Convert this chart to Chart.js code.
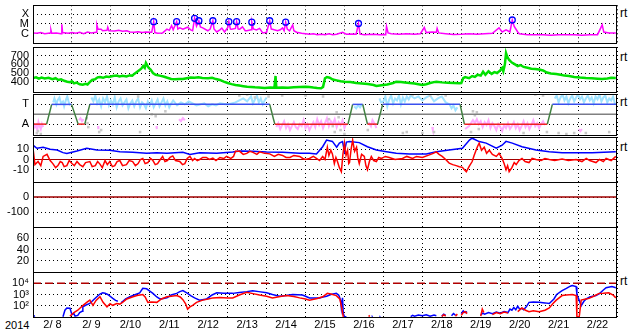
<!DOCTYPE html>
<html>
<head>
<meta charset="utf-8">
<script src="https://cdn.jsdelivr.net/npm/chart.js@4.4.1/dist/chart.umd.min.js"></script>
<style>
  body { margin: 0; background: #fff; }
  #wrap { position: relative; width: 633px; height: 334px; overflow: hidden; background: #fff;
          font-family: "Liberation Sans", Arial, sans-serif; }
  #wrap canvas { position: absolute; left: 0; display: block; }
  .lbl { position: absolute; font-size: 12px; line-height: 14px; color: #000; white-space: nowrap; }
</style>
</head>
<body>
<div id="wrap">
  <span class="lbl" style="left:5px;top:318px;font-size:11px">2014</span>
  <span class="lbl" style="left:620px;top:6px">rt</span>
  <span class="lbl" style="left:620px;top:50px">rt</span>
  <span class="lbl" style="left:620px;top:95px">rt</span>
  <span class="lbl" style="left:620px;top:140px">rt</span>
  <span class="lbl" style="left:620px;top:274px">rt</span>
</div>
<script>
// x values are days since 2/8 00:00
const DAY_LABELS = ['2/ 8','2/ 9','2/10','2/11','2/12','2/13','2/14','2/15','2/16','2/17','2/18','2/19','2/20','2/21','2/22'];

const XRAY_TICKS = [1e-6, 1e-5, 1e-4];
const XRAY_LABELS = ['C', 'M', 'X'];
const WIND_TICKS = [400, 500, 600, 700];
const SECTOR_TICKS = [-1, 1];
const SECTOR_LABELS = ['A', 'T'];
const IMF_TICKS = [-10, 0, 10];
const DST_TICKS = [-100, 0];
const KP_TICKS = [20, 40, 60];
const ELEC_TICKS = [100, 1000, 10000];
const ELEC_LABELS = ['10\u00b2', '10\u00b3', '10\u2074'];

// GOES x-ray flux (W/m2)
const xrayFlux = [[0,1.2e-6],[0.1,1.1e-6],[0.2,1.3e-6],[0.3,1.0e-6],[0.44,1.2e-6],[0.46,2.4e-6],[0.48,1.1e-6],[0.6,1.2e-6],
  [0.72,1.0e-6],[0.74,9e-6],[0.76,1.3e-6],[0.9,1.1e-6],[1.0,1.3e-6],[1.1,1.1e-6],[1.2,1.4e-6],[1.3,1.0e-6],[1.4,1.5e-6],
  [1.5,1.2e-6],[1.62,1.4e-6],[1.64,8e-6],[1.67,2.9e-6],[1.75,2.9e-6],[1.79,2e-6],[1.9,2.2e-6],[1.92,4.6e-6],[1.95,2e-6],
  [2.1,1.9e-6],[2.2,2.2e-6],[2.3,1.8e-6],[2.41,2e-6],[2.49,1.5e-6],[2.6,1.4e-6],[2.7,1.6e-6],[2.8,1.3e-6],[2.9,1.5e-6],
  [3.05,1.4e-6],[3.10,1.7e-5],[3.13,1.3e-6],[3.2,1.1e-6],[3.33,1.2e-6],[3.44,2.9e-6],[3.5,2.2e-6],[3.56,6.8e-6],[3.6,2.5e-6],
  [3.69,1.7e-5],[3.72,3e-6],[3.77,4e-6],[3.85,2.9e-6],[3.97,4.6e-6],[4.05,2.5e-6],[4.10,2.0e-6],[4.15,3.7e-5],[4.2,6e-6],
  [4.26,2.1e-5],[4.3,5e-6],[4.36,4e-6],[4.49,2e-6],[4.55,3e-6],[4.62,2.1e-5],[4.65,3e-6],[4.72,1.5e-6],[4.8,2.5e-6],
  [4.85,3.8e-6],[4.92,1.5e-6],[5.0,4e-6],[5.03,1.7e-5],[5.07,3e-6],[5.10,2.9e-6],[5.2,3.5e-6],[5.23,1.7e-5],[5.27,3e-6],
  [5.31,2.9e-6],[5.38,5e-6],[5.45,2e-6],[5.49,2e-6],[5.6,2.5e-6],[5.62,1.5e-5],[5.66,3e-6],[5.74,2.4e-6],[5.82,3.5e-6],
  [5.90,1.2e-6],[6.0,1.4e-6],[6.08,2.1e-5],[6.12,3e-6],[6.15,2.9e-6],[6.28,2e-6],[6.35,2.5e-6],[6.41,4e-6],[6.45,2e-6],
  [6.49,1.5e-5],[6.53,3e-6],[6.59,2e-6],[6.67,8e-6],[6.7,2e-6],[6.77,1.4e-6],[6.9,1.1e-6],[7.0,1.0e-6],[7.1,9e-7],
  [7.2,1.0e-6],[7.3,8e-7],[7.4,9e-7],[7.5,8e-7],[7.6,1.0e-6],[7.7,8e-7],[7.8,9e-7],[7.95,1.4e-6],[8.05,9e-7],[8.18,9.3e-7],
  [8.3,9e-7],[8.36,1.1e-5],[8.4,9e-7],[8.51,8e-7],[8.6,8.5e-7],[8.75,9e-7],[8.9,8e-7],[9.0,8.5e-7],[9.06,8e-7],[9.08,5.6e-6],
  [9.12,1.2e-6],[9.2,1.0e-6],[9.4,9e-7],[9.6,1.0e-6],[9.8,9e-7],[9.95,1.0e-6],[10.05,4.3e-6],[10.1,1.3e-6],[10.25,1.5e-6],
  [10.36,1.4e-6],[10.38,3.5e-6],[10.42,1.2e-6],[10.6,1.0e-6],[10.8,8.5e-7],[11.0,9e-7],[11.2,1.0e-6],[11.4,9e-7],
  [11.6,1.0e-6],[11.8,1.1e-6],[11.97,4e-6],[12.05,1.5e-6],[12.15,2.5e-6],[12.25,1.5e-6],[12.31,2.5e-5],[12.36,5.6e-6],
  [12.45,1.5e-6],[12.49,1.0e-6],[12.7,8e-7],[12.9,7.6e-7],[13.1,8e-7],[13.3,7e-7],[13.5,8e-7],[13.7,7.6e-7],[13.9,8e-7],
  [14.1,7e-7],[14.3,7.6e-7],[14.5,8e-7],[14.62,8e-6],[14.66,1.5e-6],[14.8,1.2e-6],[14.97,1.2e-6]];

const flareMarks = [[3.10,1.7e-5],[3.69,1.7e-5],[4.15,3.7e-5],[4.26,2.1e-5],[4.62,2.1e-5],[5.03,1.7e-5],[5.23,1.7e-5],
  [5.62,1.5e-5],[6.08,2.1e-5],[6.49,1.5e-5],[8.36,1.1e-5],[12.31,2.5e-5]];

// solar wind speed (km/s)
const windSpeed = [[0,443],[0.08,450],[0.15,435],[0.22,448],[0.3,438],[0.4,445],[0.5,430],[0.58,440],[0.65,420],[0.72,428],
  [0.8,410],[0.88,400],[0.95,395],[1.0,405],[1.05,380],[1.12,390],[1.2,370],[1.28,365],[1.35,375],[1.4,368],[1.47,400],
  [1.52,420],[1.6,430],[1.66,450],[1.72,453],[1.8,445],[1.88,460],[1.95,455],[2.05,465],[2.15,470],[2.22,460],[2.3,468],
  [2.4,460],[2.48,472],[2.55,470],[2.6,490],[2.66,510],[2.72,530],[2.78,550],[2.83,580],[2.87,560],[2.9,615],[2.93,590],
  [2.97,560],[3.02,540],[3.08,500],[3.15,480],[3.25,470],[3.35,460],[3.45,445],[3.55,432],[3.65,428],[3.75,432],[3.85,430],
  [3.95,440],[4.05,448],[4.15,445],[4.25,450],[4.35,443],[4.5,440],[4.6,445],[4.7,430],[4.8,420],[4.9,400],[5.0,385],
  [5.1,372],[5.2,362],[5.3,355],[5.4,348],[5.5,342],[5.6,339],[5.7,335],[5.8,332],[5.95,328],[6.1,332],[6.2,330],[6.23,466],
  [6.25,330],[6.4,333],[6.55,330],[6.7,336],[6.85,339],[7.0,342],[7.1,339],[7.2,332],[7.3,328],[7.4,325],[7.45,340],
  [7.5,440],[7.55,453],[7.62,445],[7.7,425],[7.8,415],[7.9,405],[8.0,400],[8.15,395],[8.3,385],[8.45,380],[8.6,372],
  [8.75,362],[8.82,350],[8.95,360],[9.1,368],[9.25,385],[9.33,400],[9.45,395],[9.55,390],[9.67,385],[9.8,378],[9.9,370],
  [10.0,362],[10.1,370],[10.2,385],[10.3,395],[10.36,400],[10.5,392],[10.65,388],[10.8,385],[10.95,382],[11.0,385],
  [11.05,440],[11.1,453],[11.2,440],[11.28,465],[11.35,455],[11.42,480],[11.5,470],[11.56,515],[11.62,480],[11.7,520],
  [11.78,490],[11.85,510],[11.92,500],[12.0,530],[12.05,557],[12.08,520],[12.12,600],[12.15,730],[12.18,690],[12.23,650],
  [12.3,620],[12.38,600],[12.45,580],[12.52,592],[12.6,570],[12.7,560],[12.8,550],[12.9,545],[13.0,540],[13.1,530],
  [13.2,505],[13.3,495],[13.44,489],[13.55,480],[13.65,470],[13.77,466],[13.9,455],[14.05,448],[14.2,443],[14.35,440],
  [14.5,435],[14.62,432],[14.75,438],[14.85,445],[14.97,443]];

// IMF sector: T = 1, A = -1
const sectorSteps = [[0,-1],[0.35,-1],[0.48,1],[0.99,1],[1.16,-1],[1.33,-1],[1.46,1],[6.08,1],[6.21,-1],[8.09,-1],[8.21,1],
  [8.47,1],[8.59,-1],[8.85,-1],[8.98,1],[10.97,1],[11.08,-1],[13.21,-1],[13.34,1],[15,1]];

const sectorToward = [[0.52,1.2],[0.55,1.6],[0.6,1.0],[0.63,1.4],[0.68,1.7],[0.72,1.1],[0.77,1.3],[0.8,0.8],[0.85,1.5],
  [0.88,1.8],[0.92,1.2],[0.95,0.9],[0.96,null],
  [1.5,1.7],[1.55,1.3],[1.6,1.9],[1.65,1.1],[1.7,1.5],[1.75,0.8],[1.8,1.6],[1.85,1.2],[1.9,1.8],[1.95,0.9],[2.0,1.4],
  [2.05,1.0],[2.1,1.7],[2.15,0.7],[2.2,1.3],[2.25,1.6],[2.3,0.9],[2.35,1.2],[2.4,1.5],[2.45,0.6],[2.5,1.1],[2.55,1.4],
  [2.6,0.8],[2.65,1.3],[2.7,1.6],[2.75,0.7],[2.8,1.2],[2.85,1.0],[2.9,0.6],[2.95,1.3],[3.0,0.9],[3.05,1.4],[3.1,0.7],
  [3.15,1.1],[3.2,1.5],[3.25,0.8],[3.3,1.2],[3.35,1.6],[3.4,0.9],[3.45,1.3],[3.5,0.7],[3.55,1.1],[3.6,1.4],[3.7,0.9],
  [3.8,1.2],[3.9,1.0],[4.0,1.3],[4.2,0.9],[4.4,1.1],[4.5,0.8],[4.6,1.0],[4.7,0.9],[4.8,1.1],[5.0,1.0],[5.2,1.2],[5.3,1.4],
  [5.4,1.6],[5.5,1.3],[5.6,1.8],[5.65,1.1],[5.7,1.5],[5.75,1.9],[5.8,1.2],[5.85,1.6],[5.9,1.0],[5.95,1.4],[6.0,1.7],[6.02,null],
  [8.25,0.8],[8.3,0.6],[8.35,0.9],[8.4,0.7],[8.45,1.0],[8.46,null],
  [8.9,1.6],[8.94,1.2],[9.0,1.3],[9.05,1.8],[9.1,0.8],[9.15,1.5],[9.2,1.9],[9.25,1.1],[9.3,1.6],[9.35,1.4],[9.4,1.9],
  [9.45,1.0],[9.5,1.7],[9.55,1.3],[9.6,1.8],[9.65,1.5],[9.7,1.9],[9.8,1.6],[9.9,1.8],[10.0,1.4],[10.1,1.7],[10.2,1.9],
  [10.3,1.3],[10.4,1.6],[10.5,1.8],[10.6,1.2],[10.7,1.0],[10.75,0.6],[10.8,0.9],[10.85,0.4],[10.9,0.7],[10.92,null],
  [13.4,1.6],[13.45,1.9],[13.5,1.2],[13.55,1.7],[13.6,2.0],[13.65,1.4],[13.7,1.8],[13.75,1.1],[13.8,1.6],[13.85,1.9],
  [13.9,1.3],[13.95,1.7],[14.0,2.0],[14.05,1.5],[14.1,1.8],[14.15,1.2],[14.2,1.6],[14.25,1.9],[14.3,1.4],[14.35,1.7],
  [14.4,1.1],[14.45,1.8],[14.5,1.5],[14.55,2.0],[14.6,1.3],[14.65,1.7],[14.7,1.9],[14.75,1.2],[14.8,1.6],[14.85,1.4],
  [14.9,1.8],[14.95,1.0]];

const sectorAway = [[0.02,-0.9],[0.05,-1.3],[0.08,-1.1],[0.11,-1.6],[0.14,-0.8],[0.17,-1.2],[0.2,-1.5],[0.23,-1.0],[0.26,-1.3],
  [0.27,null],[1.18,-0.6],[1.22,-0.4],[1.26,-0.7],[1.3,-0.5],[1.31,null],[1.67,-1.2],[1.68,-1.5],[1.69,null],
  [3.17,-1.2],[3.18,-1.5],[3.19,null],[3.75,-0.5],[3.8,-0.7],[3.85,-0.4],[3.9,-0.6],[3.91,null],
  [6.25,-1.3],[6.3,-0.9],[6.35,-1.5],[6.4,-1.1],[6.45,-0.7],[6.5,-1.4],[6.55,-1.0],[6.6,-1.6],[6.65,-1.2],[6.7,-0.8],
  [6.75,-1.3],[6.8,-1.5],[6.85,-1.0],[6.9,-1.2],[6.95,-0.6],[7.0,-1.4],[7.05,-1.0],[7.1,-1.6],[7.15,-1.2],[7.2,-0.8],
  [7.25,-1.3],[7.3,-0.5],[7.35,-1.1],[7.4,-0.7],[7.45,-1.4],[7.5,-0.9],[7.55,-0.4],[7.6,-1.2],[7.65,-0.7],[7.7,-1.0],
  [7.75,-0.5],[7.8,-1.3],[7.85,-0.8],[7.9,-1.1],[7.95,-0.6],[8.0,-1.4],[8.05,-0.9],[8.06,null],
  [8.62,-0.8],[8.68,-1.2],[8.72,-0.6],[8.78,-1.0],[8.82,-1.4],[8.83,null],[10.25,-1.3],[10.27,-1.6],[10.28,null],
  [11.1,-1.5],[11.2,-1.2],[11.3,-0.6],[11.35,-0.9],[11.4,-0.5],[11.45,-1.0],[11.5,-0.7],[11.55,-1.3],[11.6,-0.8],
  [11.65,-1.1],[11.7,-0.6],[11.75,-1.4],[11.8,-0.9],[11.85,-1.2],[11.9,-1.6],[11.95,-1.0],[12.0,-1.3],[12.05,-1.7],
  [12.1,-1.1],[12.15,-1.4],[12.2,-0.9],[12.25,-1.5],[12.3,-1.2],[12.35,-0.8],[12.4,-1.4],[12.45,-1.0],[12.5,-1.6],
  [12.55,-1.2],[12.6,-0.7],[12.65,-1.3],[12.7,-0.9],[12.75,-1.5],[12.8,-1.1],[12.85,-0.6],[12.9,-1.2],[12.95,-0.9],
  [13.0,-1.4],[13.05,-1.0],[13.1,-0.7],[13.15,-1.1],[13.16,null],[14.02,-1.5],[14.06,-1.7],[14.1,-1.5]];

const sectorOther = [[0.1,-1.9],[0.13,-1.7],[0.2,-2.0],[1.38,-0.4],[1.4,-0.9],[1.42,-1.3],[1.7,-1.8],[1.75,-1.6],[2.7,1.8],
  [2.75,-1.8],[3.05,0.0],[3.15,-0.2],[3.4,0.3],[5.3,1.9],[5.5,2.0],[5.7,1.7],[6.05,1.8],[6.4,1.9],[7.0,1.9],[7.45,1.8],
  [7.6,-0.5],[7.7,-1.2],[7.75,-1.8],[7.8,0.2],[7.85,-0.3],[7.9,-1.6],[8.0,-2.0],[8.6,-1.6],[9.5,-1.9],[9.6,-1.8],
  [9.75,2.0],[10.2,1.9],[10.4,2.0],[10.6,1.9],[10.0,-1.9],[10.3,-1.8],[11.3,0.3],[11.35,-0.1],[11.4,0.2],[11.25,-1.8],
  [11.45,-1.5],[12.6,-1.9],[13.2,-1.8],[13.5,-1.9],[13.7,-2.0],[13.9,-1.9],[14.2,-1.9],[14.8,-1.8],[12.9,2.0],[13.1,1.9]];

// IMF magnitude and Bz (nT)
const imfBt = [[0,14],[0.1,11],[0.26,12],[0.44,10],[0.62,9.3],[0.77,6.7],[0.87,6],[1.13,8.3],[1.38,11],[1.64,9.3],[1.97,9],
  [2.23,7.6],[2.56,7],[2.92,6],[3.18,6.7],[3.44,6],[3.85,7],[4.03,5],[4.28,6.7],[4.72,6],[5.13,7.3],[5.31,8.3],[5.64,8],
  [6.0,7.3],[6.41,7],[6.85,6],[7.1,6],[7.28,5.3],[7.44,12.5],[7.54,19],[7.69,17.7],[7.8,12],[7.87,16],[7.95,17.5],[8.0,8],
  [8.05,17],[8.13,17.7],[8.38,16.5],[8.59,12.5],[8.82,9.3],[9.08,7.6],[9.33,6],[9.67,5.3],[10.1,5.3],[10.36,7.6],[10.69,9.3],
  [11.03,11],[11.21,19],[11.28,20.8],[11.46,17.5],[11.64,16],[11.9,11],[12.05,14],[12.15,17.7],[12.31,16],[12.56,12.5],
  [12.92,9.3],[13.26,7.6],[13.59,6.7],[13.95,6.7],[14.36,6.7],[14.97,7.6]];

const imfBz = [[0,11],[0.05,-5],[0.13,-2],[0.2,-6],[0.26,3],[0.36,5],[0.44,-1],[0.51,-4],[0.58,-8],[0.64,-6],[0.7,-2],
  [0.75,-3],[0.8,-7],[0.87,-6],[0.93,-1],[1.0,-4],[1.06,-6],[1.13,-2],[1.2,-5],[1.28,-7],[1.35,-3],[1.46,-2],[1.52,-7],
  [1.6,-6],[1.66,-2],[1.72,-4.5],[1.78,-8],[1.85,-1],[1.91,-5],[1.97,-2],[2.04,-7],[2.1,-6],[2.16,-2],[2.23,-1],[2.3,-6],
  [2.4,-5],[2.47,-1],[2.56,-2],[2.63,-6],[2.7,-4],[2.76,0],[2.82,1],[2.88,-4],[2.95,-3],[3.02,1],[3.08,-1],[3.14,-5],
  [3.2,-4],[3.27,0],[3.33,3],[3.39,-2],[3.45,-1],[3.52,2],[3.59,3.5],[3.66,-1],[3.77,-2],[3.84,-5],[3.9,-4],[3.96,1],
  [4.03,3],[4.1,-1],[4.15,1],[4.22,-1],[4.28,0],[4.36,2],[4.45,2],[4.53,0],[4.62,1.3],[4.7,-1],[4.8,2],[4.9,1],[4.97,3],
  [5.08,1],[5.15,3],[5.2,8],[5.31,8],[5.4,5],[5.49,6],[5.57,8],[5.65,7],[5.75,5],[5.82,7.5],[5.95,6],[6.08,5.5],[6.2,3],
  [6.3,5],[6.41,4],[6.5,2],[6.6,2],[6.7,4],[6.85,3],[6.93,1],[7.0,0],[7.1,1],[7.2,3],[7.28,1],[7.36,-1],[7.44,3],[7.5,0],
  [7.56,12],[7.6,4],[7.65,9],[7.69,5.5],[7.74,-4],[7.78,2],[7.82,-2],[7.87,-8],[7.92,-12],[7.96,5],[8.0,16],[8.04,4],
  [8.08,9],[8.11,-4],[8.13,-3],[8.17,10],[8.21,19],[8.26,8],[8.31,12],[8.34,2],[8.38,-4],[8.44,5],[8.51,3],[8.55,-6],
  [8.59,-10],[8.64,-2],[8.69,3],[8.75,-1],[8.82,-2],[8.88,2],[8.95,1],[9.05,3],[9.15,2],[9.3,0],[9.49,1],[9.6,3],[9.75,1],
  [9.85,3],[10.0,2],[10.18,4.5],[10.28,6],[10.36,7.5],[10.43,5],[10.51,3],[10.6,0],[10.69,-3.5],[10.78,-5],[10.87,-6],
  [10.95,-7],[11.03,-7.7],[11.08,-10],[11.13,-12],[11.2,-7],[11.28,-2],[11.33,4],[11.38,9],[11.42,13],[11.46,16],[11.52,9],
  [11.59,12],[11.65,6],[11.72,9],[11.8,5],[11.9,3],[11.97,6],[12.05,1],[12.1,-4],[12.15,-10],[12.19,-6],[12.23,-12],
  [12.3,-8],[12.36,-3],[12.41,-5],[12.48,-1],[12.56,1],[12.64,-2],[12.74,-3],[12.82,1],[12.92,0],[13.05,-1],[13.15,1],
  [13.26,0],[13.4,-1],[13.59,0.5],[13.75,-1],[13.95,0],[14.1,-2],[14.21,1],[14.3,-1],[14.46,-3],[14.55,0],[14.65,-2],
  [14.72,1],[14.85,-1],[14.97,3]];

// electron flux (two channels)
const elecBlue = [[0,11],[0.05,13],[0.06,null],[0.77,10.5],[0.82,40],[0.87,63],[0.95,60],[1.0,16],[1.05,20],[1.08,12],[1.15,14],
  [1.2,25],[1.26,32],[1.28,80],[1.35,110],[1.46,160],[1.55,320],[1.64,630],[1.72,1100],[1.79,1400],[1.85,1300],[1.92,1000],
  [2.05,450],[2.12,300],[2.18,250],[2.2,null],[2.26,220],[2.28,200],[2.38,400],[2.49,630],[2.6,900],[2.74,1400],[2.82,3500],
  [2.92,3200],[3.0,2000],[3.08,1260],[3.18,600],[3.26,400],[3.35,450],[3.44,500],[3.55,900],[3.69,1260],[3.77,1800],
  [3.85,2200],[3.97,1260],[4.05,800],[4.15,500],[4.28,316],[4.46,400],[4.6,900],[4.72,1400],[4.9,1300],[5.13,1260],
  [5.3,1500],[5.49,1800],[5.64,2200],[5.8,1800],[6.0,1400],[6.15,1000],[6.33,700],[6.5,800],[6.67,1000],[6.8,950],
  [6.92,900],[7.0,700],[7.1,500],[7.36,500],[7.45,600],[7.54,700],[7.65,1000],[7.79,1260],[7.85,900],[7.87,630],[7.9,300],
  [7.92,60],[7.95,500],[7.97,20],[8.0,10.5],[8.05,10.5],[8.06,null],[8.7,11],[8.72,13],[8.73,null],[8.9,11],[8.92,12],
  [8.93,null],[9.7,11],[9.75,14],[9.8,12],[9.9,15],[10.0,13],[10.1,16],[10.2,12],[10.3,15],[10.36,13],[10.37,null],
  [10.5,12],[10.55,18],[10.6,14],[10.62,null],[10.75,13],[10.8,20],[10.85,15],[10.87,null],[11.0,20],[11.05,35],[11.1,25],
  [11.15,30],[11.18,null],[11.5,15],[11.55,22],[11.6,18],[11.7,25],[11.8,20],[11.9,28],[12.0,22],[12.1,30],[12.2,25],
  [12.25,50],[12.3,40],[12.35,70],[12.4,45],[12.45,90],[12.5,50],[12.55,60],[12.6,45],[12.67,80],[12.74,200],[12.85,210],
  [13.0,200],[13.15,180],[13.26,160],[13.38,400],[13.45,1000],[13.59,2200],[13.7,3500],[13.8,5500],[13.85,6300],
  [13.95,5000],[13.97,1000],[14.03,300],[14.08,100],[14.15,250],[14.21,400],[14.3,600],[14.46,800],[14.55,1200],
  [14.65,2500],[14.72,4000],[14.87,5000],[14.97,4000]];

const elecRed = [[0.95,12],[1.05,25],[1.15,40],[1.21,63],[1.3,120],[1.38,200],[1.46,316],[1.54,110],[1.62,300],[1.72,630],
  [1.8,200],[1.9,80],[1.98,150],[2.05,110],[2.15,160],[2.23,140],[2.3,200],[2.41,400],[2.55,600],[2.67,800],[2.82,1000],
  [2.88,600],[2.95,200],[3.05,220],[3.18,200],[3.3,400],[3.44,630],[3.55,700],[3.69,800],[3.78,600],[3.85,350],[3.92,150],
  [3.97,50],[4.03,80],[4.1,110],[4.2,200],[4.36,316],[4.5,400],[4.62,500],[4.8,550],[5.0,500],[5.13,500],[5.3,900],
  [5.49,1600],[5.65,1200],[5.82,900],[6.0,700],[6.15,500],[6.35,650],[6.51,800],[6.7,650],[6.85,500],[7.0,400],[7.1,316],
  [7.3,450],[7.44,630],[7.56,1260],[7.65,1100],[7.79,800],[7.88,400],[7.92,100],[7.97,10.5],[8.0,null],[8.62,11],
  [8.65,14],[8.67,null],[10.5,11],[10.55,16],[10.6,12],[10.62,null],[10.85,12],[10.9,18],[10.92,null],[11.0,14],
  [11.05,25],[11.1,30],[11.15,20],[11.17,null],[11.5,12],[11.54,50],[11.58,25],[11.62,null],[11.8,16],[11.9,25],[12.0,20],
  [12.1,28],[12.2,22],[12.25,null],[12.45,30],[12.56,63],[12.65,40],[12.74,30],[12.85,35],[13.0,30],[13.15,40],[13.26,63],
  [13.35,150],[13.44,316],[13.59,800],[13.7,900],[13.85,1000],[13.95,800],[13.97,10.5],[14.03,10.5],[14.08,316],[14.2,400],
  [14.28,450],[14.4,700],[14.54,1260],[14.65,1300],[14.79,1400],[14.9,900],[14.97,500]];

const FONT = { family: '"Liberation Sans", Arial, sans-serif', size: 11 };
const EDGES = [2, 47, 92, 137, 182, 227, 272, 317];
const HALF_TICKS = [];
for (let i = 0; i <= 30; i++) HALF_TICKS.push(i / 2);

const wrap = document.getElementById('wrap');

const frame = {
  id: 'frame',
  afterDraw(chart) {
    const { ctx, chartArea: a } = chart;
    ctx.save();
    ctx.strokeStyle = '#000';
    ctx.lineWidth = 1;
    ctx.strokeRect(Math.round(a.left) + 0.5, Math.round(a.top) + 0.5,
      Math.round(a.right - a.left) - 1, Math.round(a.bottom - a.top));
    ctx.restore();
  }
};

function xAxis(showLabels) {
  return {
    type: 'linear', min: 0, max: 15,
    grid: {
      color: c => (c.tick && Number.isInteger(c.tick.value)) ? '#000' : 'rgba(0,0,0,0)',
      drawTicks: false, borderDash: [1, 3]
    },
    border: { display: false, dash: [1, 3] },
    ticks: {
      display: showLabels, autoSkip: false, maxRotation: 0, padding: 1, color: '#000', font: FONT,
      callback: v => Number.isInteger(v) ? '' : DAY_LABELS[Math.floor(v)]
    },
    afterBuildTicks: s => { s.ticks = HALF_TICKS.map(v => ({ value: v })); },
    afterFit: s => { s.height = showLabels ? 18 : 0; s.paddingLeft = 0; s.paddingRight = 0; }
  };
}

function yAxis(type, min, max, ticks, labels) {
  return {
    type, min, max, position: 'left',
    grid: { color: '#000', drawTicks: false, borderDash: [1, 3] },
    border: { display: false, dash: [1, 3] },
    ticks: {
      color: '#000', font: FONT, padding: 4, autoSkip: false,
      callback: (v, i) => labels ? labels[i] : String(v)
    },
    afterBuildTicks: s => { s.ticks = ticks.map(v => ({ value: v })); },
    afterFit: s => { s.width = 33; s.paddingTop = 0; s.paddingBottom = 0; }
  };
}

function line(data, color, width, extra) {
  return Object.assign({ data, borderColor: color, borderWidth: width, pointRadius: 0, spanGaps: false, tension: 0 }, extra || {});
}

function dots(data, color, r) {
  return { data, showLine: false, pointRadius: r, pointStyle: 'rect', pointBorderWidth: 0,
           pointBackgroundColor: color, borderColor: color };
}

function panel(i, yScale, datasets) {
  const last = i === EDGES.length - 2;
  const cv = document.createElement('canvas');
  cv.width = 633;
  cv.height = EDGES[i + 1] - EDGES[i] + 2 + (last ? 18 : 2);
  cv.style.top = (EDGES[i] - 2) + 'px';
  wrap.appendChild(cv);
  new Chart(cv, {
    type: 'line',
    data: { datasets },
    options: {
      responsive: false, animation: false, events: [],
      layout: { padding: { left: 0, right: 16, top: 2, bottom: last ? 0 : 2 } },
      plugins: { legend: { display: false }, tooltip: { enabled: false } },
      scales: { x: xAxis(last), y: yScale }
    },
    plugins: [frame]
  });
}

// 1: x-ray
panel(0, yAxis('logarithmic', 9.5e-8, 8e-4, XRAY_TICKS, XRAY_LABELS), [
  { data: flareMarks, showLine: false, pointRadius: 3, pointStyle: 'circle', pointBorderWidth: 1.3,
    pointBorderColor: '#0000ff', pointBackgroundColor: 'rgba(0,0,0,0)' },
  line(xrayFlux, '#ff00ff', 1.5)
]);

// 2: solar wind speed
panel(1, yAxis('linear', 281, 800, WIND_TICKS), [
  line(windSpeed, '#00e000', 2.5)
]);

// 3: IMF sector
panel(2, yAxis('linear', -2.1, 2.05, SECTOR_TICKS, SECTOR_LABELS), [
  line(sectorSteps, '#3a50ee', 1.5, {
    segment: {
      borderColor: c => {
        const a = c.p0.parsed.y, b = c.p1.parsed.y;
        if (a === 1 && b === 1) return '#3a50ee';
        if (a === -1 && b === -1) return '#ee2020';
        return '#408040';
      }
    }
  }),
  line([[0, 0], [15, 0]], '#808080', 1.5),
  dots(sectorOther, '#c8c8c8', 1.8),
  line(sectorAway, '#ffaaff', 2),
  line(sectorToward, '#9fe2ff', 2)
]);

// 4: IMF Bt / Bz
panel(3, yAxis('linear', -22, 22, IMF_TICKS), [
  line(imfBz, '#ff0000', 1.5),
  line(imfBt, '#0000ff', 1.5),
  line([[0, 0], [15, 0]], '#a00000', 1.2)
]);

// 5: Dst (no data)
panel(4, yAxis('linear', -200, 100, DST_TICKS), [
  line([[0, 0], [15, 0]], '#a00000', 1.5)
]);

// 6: empty panel
panel(5, yAxis('linear', 0, 80, KP_TICKS), []);

// 7: electron flux
panel(6, yAxis('logarithmic', 10, 1e5, ELEC_TICKS, ELEC_LABELS), [
  line(elecRed, '#ff0000', 1.5),
  line(elecBlue, '#0000ff', 1.5),
  line([[0, 1e4], [15, 1e4]], '#b00000', 1.5, { borderDash: [8, 4] })
]);
</script>
</body>
</html>
